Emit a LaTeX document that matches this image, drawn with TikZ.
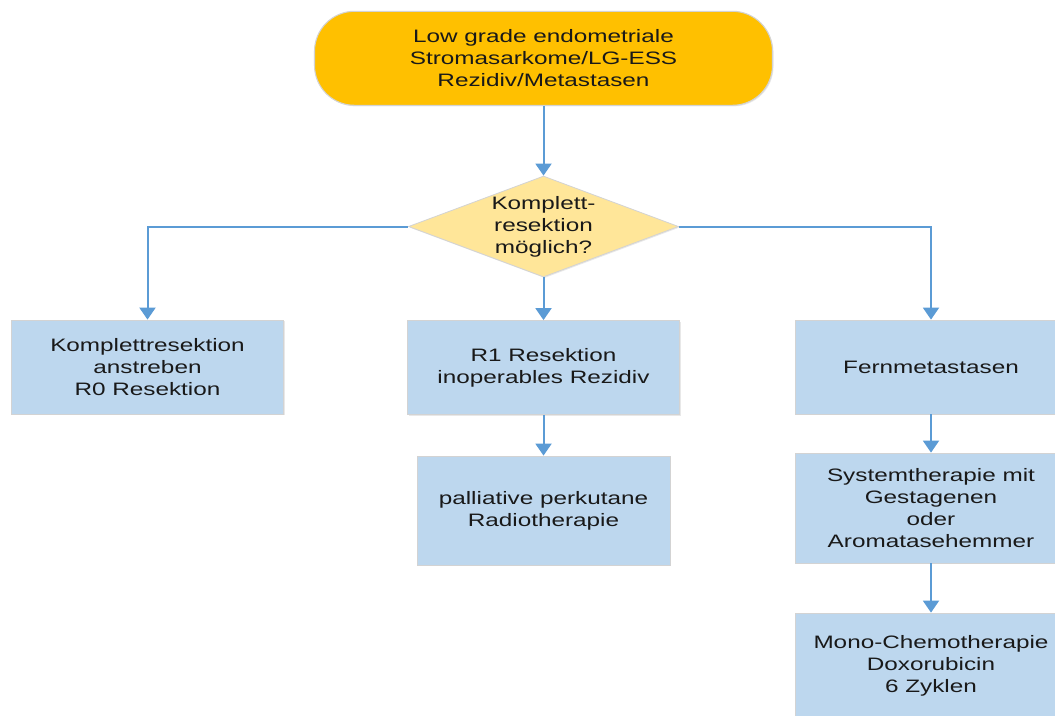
\documentclass[tikz,border=0pt]{standalone}
\usepackage{fontspec}
\setmainfont{Liberation Sans}[FakeStretch=1.35]
\usetikzlibrary{arrows.meta,shapes.geometric,shadows}

\definecolor{startfill}{HTML}{FFC000}
\definecolor{askfill}{HTML}{FFE699}
\definecolor{boxfill}{HTML}{BDD7EE}
\definecolor{flowline}{HTML}{5B9BD5}
\definecolor{edgegray}{HTML}{D3D3D3}

\tikzset{
  txt/.style={font=\fontsize{13.5pt}{16.5pt}\selectfont, align=center, text=black!90},
  soft/.style={drop shadow={shadow xshift=0.8pt, shadow yshift=-0.8pt, opacity=0.18}},
  startbox/.style={txt, soft, rectangle, rounded corners=30pt, fill=startfill, draw=edgegray,
    line width=0.8pt, minimum width=343.5pt, minimum height=70.5pt, inner sep=0pt},
  askbox/.style={diamond, soft, fill=askfill, draw=edgegray, line width=0.6pt, inner sep=0pt},
  stepbox/.style={txt, soft, rectangle, fill=boxfill, draw=edgegray, line width=0.6pt,
    minimum width=204pt, inner sep=0pt},
  arr/.style={draw=flowline, line width=1.5pt, -{Triangle[width=12pt,length=9pt]}},
}

\begin{document}
\begin{tikzpicture}[x=0.75pt, y=-0.75pt]
\useasboundingbox (0,0) rectangle (1055,715);
\clip (0,0) rectangle (1055,715);

% start
\node[startbox] (top) at (543.5,58.3)
  {Low grade endometriale\\Stromasarkome/LG-ESS\\Rezidiv/Metastasen};

% decision
\node[askbox, minimum width=202.5pt, minimum height=75.75pt,
  label={[txt]center:{Komplett-\\resektion\\möglich?}}] (q) at (543.5,226.5) {};

% first row
\node[stepbox, minimum height=70.5pt] (b1) at (147.5,367)
  {Komplettresektion\\anstreben\\R0 Resektion};
\node[stepbox, minimum height=70.5pt] (b2) at (543.5,367.5)
  {R1 Resektion\\inoperables Rezidiv};
\node[stepbox, minimum height=70.5pt] (b3) at (931,367)
  {Fernmetastasen};

% follow-up steps
\node[stepbox, minimum width=189.75pt, minimum height=81.75pt] (b4) at (543.5,510.5)
  {palliative perkutane\\Radiotherapie};
\node[stepbox, minimum height=82.5pt] (b5) at (931,508)
  {Systemtherapie mit\\Gestagenen\\oder\\Aromatasehemmer};
\node[stepbox, minimum height=79.5pt] (b6) at (931,666)
  {Mono-Chemotherapie\\Doxorubicin\\6 Zyklen};

% connectors
\draw[arr] (top.south) -- (q.north);
\draw[arr] (q.west) -| (b1.north);
\draw[arr] (q.south) -- (b2.north);
\draw[arr] (q.east) -| (b3.north);
\draw[arr] (b2.south) -- (b4.north);
\draw[arr] (b3.south) -- (b5.north);
\draw[arr] (b5.south) -- (b6.north);
\end{tikzpicture}
\end{document}
